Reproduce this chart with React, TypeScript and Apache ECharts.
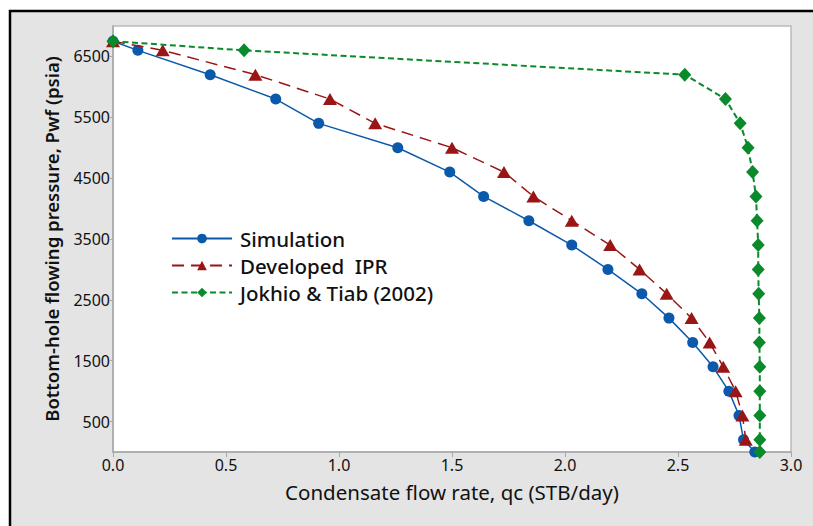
import React, { useEffect, useRef } from "react";
import * as echarts from "echarts";

const pressures = [6750, 6600, 6200, 5800, 5400, 5000, 4600, 4200, 3800, 3400, 3000, 2600, 2200, 1800, 1400, 1000, 600, 200, 0];
const simulationQ = [0, 0.11, 0.43, 0.72, 0.91, 1.26, 1.49, 1.64, 1.84, 2.03, 2.19, 2.34, 2.46, 2.565, 2.655, 2.725, 2.77, 2.79, 2.84];
const developedQ = [0, 0.22, 0.63, 0.96, 1.16, 1.5, 1.73, 1.86, 2.03, 2.2, 2.33, 2.45, 2.56, 2.64, 2.7, 2.755, 2.785, 2.8];
const jokhioQ = [0, 0.58, 2.53, 2.71, 2.775, 2.81, 2.83, 2.845, 2.85, 2.855, 2.855, 2.857, 2.86, 2.86, 2.862, 2.862, 2.862, 2.862, 2.862];
const yTicks = [500, 1500, 2500, 3500, 4500, 5500, 6500];
const seriesNames = ["Simulation", "Developed  IPR", "Jokhio & Tiab (2002)"];

const pairs = (qs: number[]) => qs.map((q, i) => [q, pressures[i]]);

export default function App() {
  const ref = useRef<HTMLDivElement>(null);
  useEffect(() => {
    if (!ref.current) return;
    const chart = echarts.init(ref.current, null, { renderer: "svg" });
    const font = "'Noto Sans', 'Open Sans', sans-serif";
    chart.setOption({
      animation: false,
      backgroundColor: "#ffffff",
      textStyle: { fontFamily: font },
      graphic: [
        {
          type: "rect",
          z: -100,
          silent: true,
          shape: { x: 10, y: 11, width: 900, height: 600 },
          style: { fill: "#e4e4e4", stroke: "#000000", lineWidth: 2.5 },
        },
      ],
      grid: {
        left: 113,
        right: 22,
        top: 26,
        bottom: 74,
        show: true,
        backgroundColor: "#ffffff",
        borderColor: "#b9b9b9",
        borderWidth: 1.5,
      },
      legend: {
        orient: "vertical",
        left: 166,
        top: 222,
        itemWidth: 60,
        itemHeight: 12,
        itemGap: 4,
        data: seriesNames,
        textStyle: {
          fontFamily: font,
          fontSize: 20.5,
          fontWeight: 500,
          color: "#111",
          lineHeight: 23,
          padding: [0, 0, 0, 3],
        },
      },
      xAxis: {
        type: "value",
        min: 0,
        max: 3,
        interval: 0.5,
        name: "Condensate flow rate, qc (STB/day)",
        nameLocation: "middle",
        nameGap: 29,
        nameTextStyle: { fontSize: 20.5, color: "#111", fontFamily: font },
        axisLine: { show: true, lineStyle: { color: "#a8a8a8", width: 1.5 } },
        axisTick: { show: true, length: 5, lineStyle: { color: "#a8a8a8" } },
        axisLabel: {
          color: "#111",
          fontSize: 16,
          margin: 5,
          formatter: (v: number) => v.toFixed(1),
        },
        splitLine: { show: false },
      },
      yAxis: {
        type: "value",
        min: 0,
        max: 7000,
        name: "Bottom-hole flowing pressure, Pwf (psia)",
        nameLocation: "middle",
        nameGap: 52,
        nameTextStyle: { fontSize: 18.5, fontWeight: 600, color: "#111", fontFamily: font },
        axisLine: { show: true, lineStyle: { color: "#a8a8a8", width: 1.5 } },
        axisTick: { show: true, length: 3, customValues: yTicks, lineStyle: { color: "#a8a8a8" } },
        axisLabel: {
          color: "#111",
          fontSize: 16,
          margin: 3,
          customValues: yTicks,
          formatter: (v: number) => String(v),
        },
        splitLine: { show: false },
      },
      series: [
        {
          name: seriesNames[0],
          type: "line",
          data: pairs(simulationQ),
          symbol: "circle",
          symbolSize: 11,
          itemStyle: { color: "#0b59ab" },
          lineStyle: { color: "#0b59ab", width: 1.5, type: "solid" },
          z: 3,
        },
        {
          name: seriesNames[1],
          type: "line",
          data: pairs(developedQ),
          symbol: "triangle",
          symbolSize: [14, 12],
          itemStyle: { color: "#9a1515" },
          lineStyle: { color: "#9a1515", width: 1.5, type: [12, 7] },
          z: 4,
        },
        {
          name: seriesNames[2],
          type: "line",
          data: pairs(jokhioQ),
          symbol: "diamond",
          symbolSize: [13, 14],
          itemStyle: { color: "#0a8a2a" },
          lineStyle: { color: "#0a8a2a", width: 2, type: [6, 3.5] },
          z: 5,
        },
      ],
    });
    return () => chart.dispose();
  }, []);
  return (
    <div
      ref={ref}
      style={{ position: "fixed", left: 0, top: 0, width: 813, height: 526, background: "#fff" }}
    />
  );
}
